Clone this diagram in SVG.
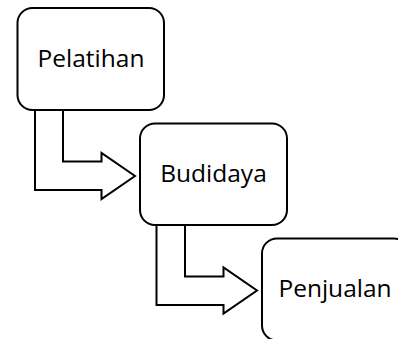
<svg xmlns="http://www.w3.org/2000/svg" width="398" height="339" viewBox="0 0 398 339">
<style>
.box{fill:#fff;stroke:#000;stroke-width:2}
.arr{fill:#fff;stroke:#000;stroke-width:2;stroke-linejoin:miter}
.lbl{font-family:"Open Sans","Liberation Sans",sans-serif;font-size:24.5px;fill:#000;text-anchor:middle}
</style>
<rect width="398" height="339" fill="#fff"/>
<g id="connectors">
<polyline class="arr" points="35,110 35,190 101.5,190 101.5,199 135,176 101.5,153 101.5,161.5 63,161.5 63,110"/>
<polyline class="arr" points="156.5,225 156.5,305 223.5,305 223.5,313.5 257,290.5 223.5,267.5 223.5,276.5 185,276.5 185,225"/>
</g>
<g id="pelatihan">
<rect class="box" x="17.5" y="8" width="146.5" height="102" rx="15"/>
<text class="lbl" x="91" y="67">Pelatihan</text>
</g>
<g id="budidaya">
<rect class="box" x="140" y="123.5" width="147" height="101.5" rx="15"/>
<text class="lbl" x="213.5" y="182">Budidaya</text>
</g>
<g id="penjualan">
<rect class="box" x="262" y="238.5" width="147" height="102" rx="15"/>
<text class="lbl" x="335" y="297">Penjualan</text>
</g>
</svg>
